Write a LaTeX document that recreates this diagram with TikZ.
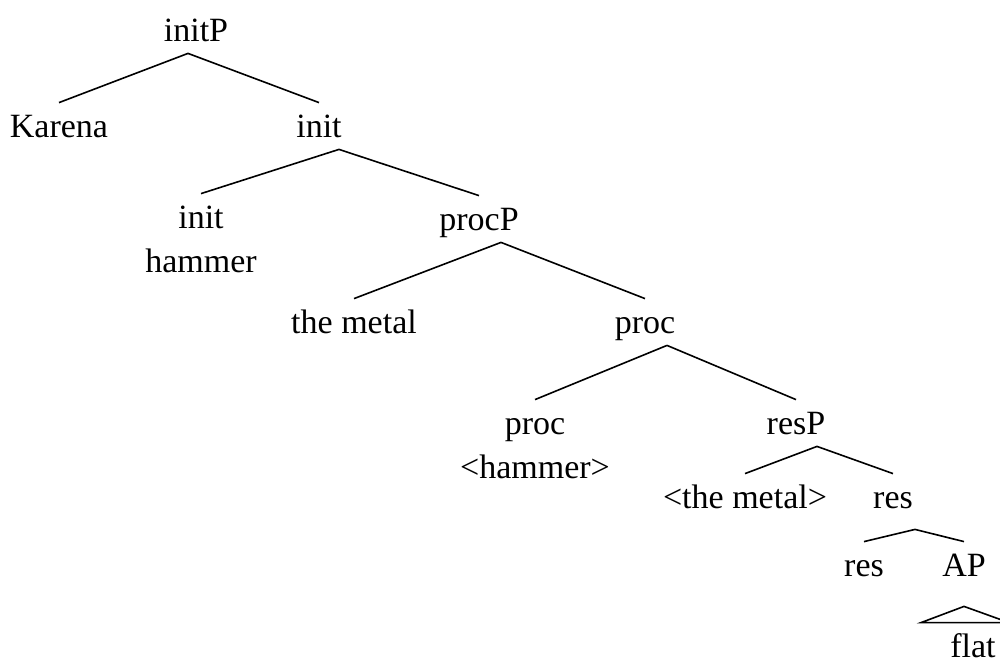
\documentclass[tikz,border=0pt]{standalone}
\usepackage{fontspec}
\setmainfont{Liberation Serif}

\begin{document}
\begin{tikzpicture}[x=0.5pt,y=-0.5pt,
    lbl/.style={anchor=base,inner xsep=0pt,inner ysep=6pt,text height=11pt,text depth=0pt,
      font=\fontsize{17}{22}\selectfont},
    edge/.style={line width=0.8pt}]
    \useasboundingbox (0,0) rectangle (1000,664);
    \clip (0,0) rectangle (1000,664);
    \node[lbl] (initP) at (196,41) {initP};
    \node[lbl] (karena) at (59,137) {Karena};
    \node[lbl] (init) at (319,137) {init};
    \node[lbl] (inith) at (201,228) {\begin{tabular}[t]{@{}c@{}}init\\hammer\end{tabular}};
    \node[lbl] (procP) at (479,230) {procP};
    \node[lbl] (metal) at (354,333) {the metal};
    \node[lbl] (proc) at (645,333) {proc};
    \node[lbl] (proch) at (535,434) {\begin{tabular}[t]{@{}c@{}}proc\\<hammer>\end{tabular}};
    \node[lbl] (resP) at (796,434) {resP};
    \node[lbl] (trmetal) at (745,508) {<the metal>};
    \node[lbl] (res) at (893,508) {res};
    \node[lbl] (reshead) at (864,576) {res};
    \node[lbl] (AP) at (964,576) {AP};
    \node[lbl] (flat) at (973,657) {flat};
    \draw[edge] ([xshift=-4pt]initP.south) -- (karena.north);
    \draw[edge] ([xshift=-4pt]initP.south) -- (init.north);
    \draw[edge] ([xshift=10pt]init.south) -- (inith.north);
    \draw[edge] ([xshift=10pt]init.south) -- (procP.north);
    \draw[edge] ([xshift=11pt]procP.south) -- (metal.north);
    \draw[edge] ([xshift=11pt]procP.south) -- (proc.north);
    \draw[edge] ([xshift=11pt]proc.south) -- (proch.north);
    \draw[edge] ([xshift=11pt]proc.south) -- (resP.north);
    \draw[edge] ([xshift=10.5pt]resP.south) -- (trmetal.north);
    \draw[edge] ([xshift=10.5pt]resP.south) -- (res.north);
    \draw[edge] ([xshift=11pt,yshift=-4.5pt]res.south) -- (reshead.north);
    \draw[edge] ([xshift=11pt,yshift=-4.5pt]res.south) -- (AP.north);
    \draw[edge] ([yshift=-9pt]AP.south) -- ([xshift=-26pt]flat.north) -- ([xshift=18pt]flat.north) -- cycle;
\end{tikzpicture}
\end{document}
